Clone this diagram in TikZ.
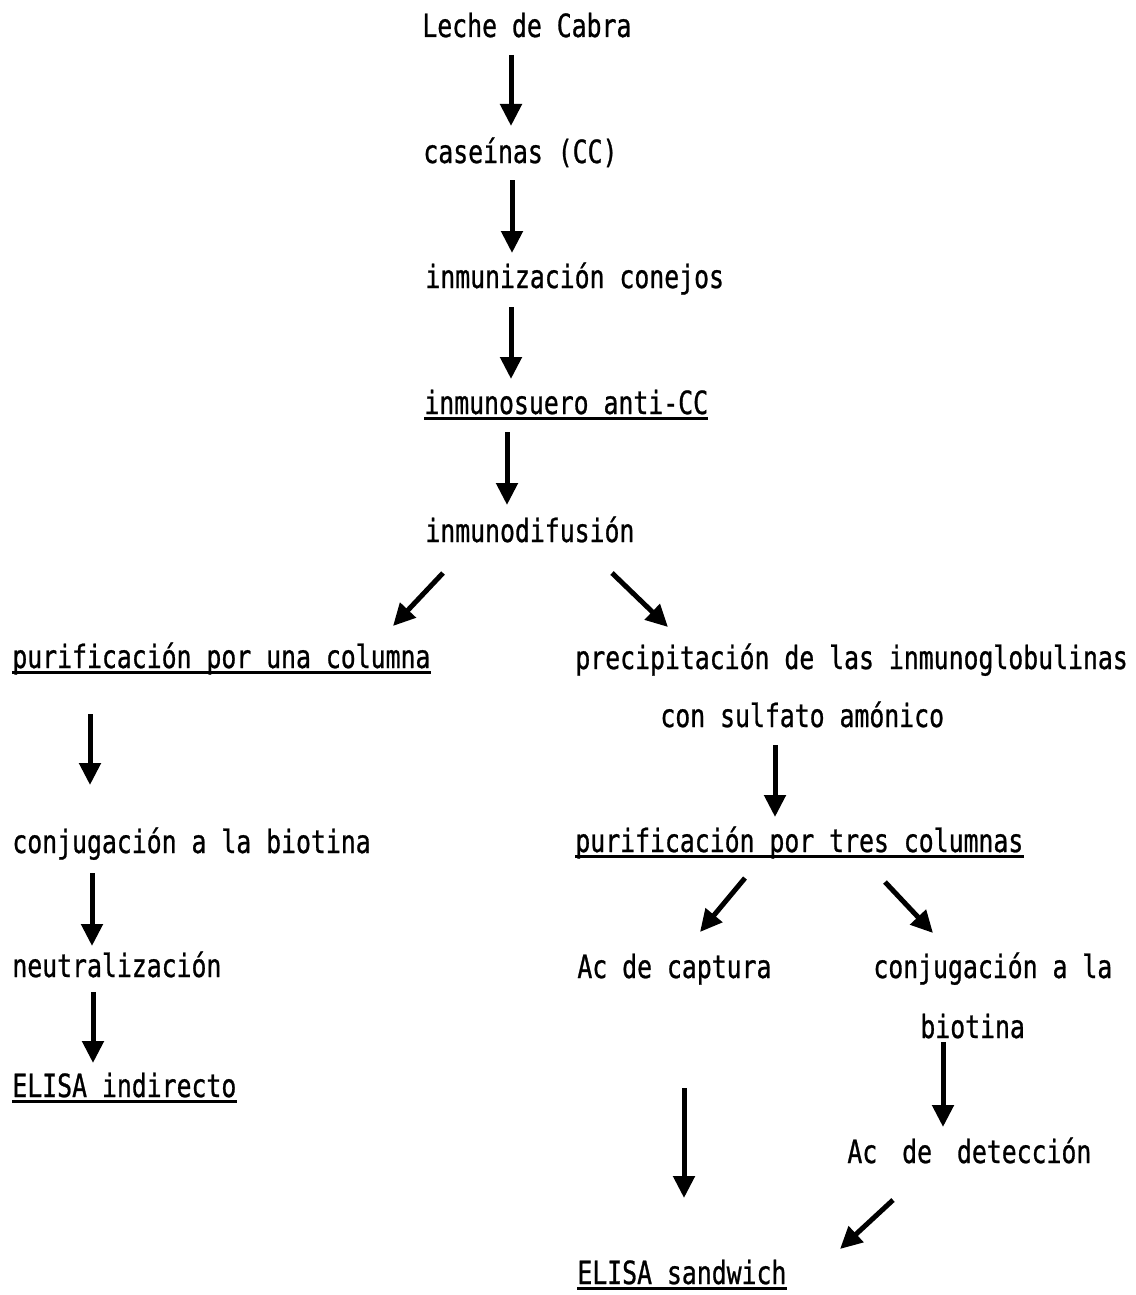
\documentclass[tikz,border=0pt]{standalone}
\usepackage{fontspec}
\setmainfont{DejaVu Sans Mono}[FakeStretch=0.775, FakeBold=0.8]
\usetikzlibrary{arrows.meta}
\tikzset{
  paso/.style={anchor=base west, inner sep=0pt, font=\fontsize{16}{19}\selectfont},
  flecha/.style={line width=2.5pt, -{Triangle[length=11pt,width=10.5pt]}},
  subraya/.style={line width=1.5pt},
}

\begin{document}
\begin{tikzpicture}[x=0.5pt, y=-0.5pt]
    \useasboundingbox (0,0) rectangle (1135,1295);
    % Tronco comun
    \node[paso] (leche)   at (422,37)  {Leche de Cabra};
    \node[paso] (caseina) at (423,163) {caseínas (CC)};
    \node[paso] (inmuniz) at (425,288) {inmunización conejos};
    \node[paso] (suero)   at (424,414) {inmunosuero anti-CC};
    \node[paso] (difus)   at (425,542) {inmunodifusión};
    % Rama izquierda
    \node[paso] (purUna)  at (12,668)  {purificación por una columna};
    \node[paso] (conjIzq) at (12,853)  {conjugación a la biotina};
    \node[paso] (neutra)  at (12,977)  {neutralización};
    \node[paso] (elisaInd) at (12,1097) {ELISA indirecto};
    % Rama derecha
    \node[paso] (precip)  at (575,669) {precipitación de las inmunoglobulinas};
    \node[paso] (sulfato) at (660,727) {con sulfato amónico};
    \node[paso] (purTres) at (575,852) {purificación por tres columnas};
    \node[paso] (captura) at (577,978) {Ac de captura};
    \node[paso] (conjDer) at (873,978) {conjugación a la};
    \node[paso] (biot)    at (920,1038) {biotina};
    \node[paso] (detecc)  at (847,1163) {Ac\hspace{5pt} de\hspace{5pt} detección};
    \node[paso] (elisaSan) at (577,1284) {ELISA sandwich};
    % Subrayados
    \foreach \n in {suero,purUna,elisaInd,purTres,elisaSan}
      \draw[subraya] ([yshift=-2pt]\n.base west) -- ([yshift=-2pt]\n.base east);
    % Extremos de las flechas
    \coordinate (f1a) at (511,55);   \coordinate (f1b) at (511,126);
    \coordinate (f2a) at (512,180);  \coordinate (f2b) at (512,253);
    \coordinate (f3a) at (511,307);  \coordinate (f3b) at (511,379);
    \coordinate (f4a) at (507,432);  \coordinate (f4b) at (507,505);
    \coordinate (f5a) at (443,573);  \coordinate (f5b) at (393,626);
    \coordinate (f6a) at (612,573);  \coordinate (f6b) at (668,627);
    \coordinate (f7a) at (90,714);   \coordinate (f7b) at (90,785);
    \coordinate (f8a) at (775,745);  \coordinate (f8b) at (775,817);
    \coordinate (f9a) at (92,873);   \coordinate (f9b) at (92,946);
    \coordinate (f10a) at (745,878); \coordinate (f10b) at (700,932);
    \coordinate (f11a) at (885,882); \coordinate (f11b) at (933,933);
    \coordinate (f12a) at (93,992);  \coordinate (f12b) at (93,1063);
    \coordinate (f13a) at (943,1042); \coordinate (f13b) at (943,1127);
    \coordinate (f14a) at (684,1088); \coordinate (f14b) at (684,1198);
    \coordinate (f15a) at (893,1200); \coordinate (f15b) at (840,1249);
    \foreach \i in {1,...,15}
      \draw[flecha] (f\i a) -- (f\i b);
\end{tikzpicture}
\end{document}
